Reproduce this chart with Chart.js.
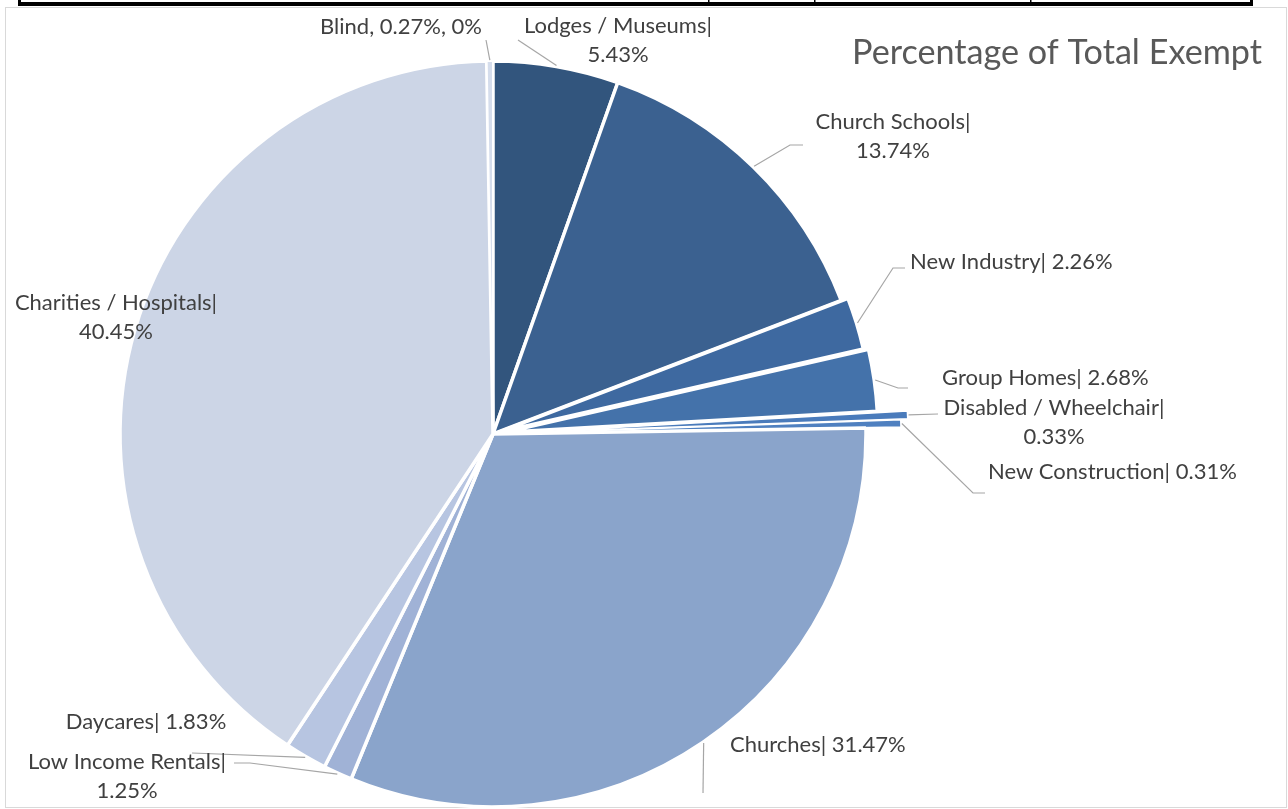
<!DOCTYPE html>
<html><head><meta charset="utf-8">
<script src="https://cdn.jsdelivr.net/npm/chart.js@4"></script>
<style>html,body{margin:0;padding:0;background:#fff;overflow:hidden}
#wrap{position:absolute;left:0;top:0;width:1288px;height:809px}</style>
</head><body>
<div id="wrap"><canvas id="c" width="1288" height="809"></canvas></div>
<script>
// ---- data ----
const categories = ["Lodges / Museums","Church Schools","New Industry","Group Homes","Disabled / Wheelchair","New Construction","Churches","Low Income Rentals","Daycares","Charities / Hospitals","Blind"];
const values = [5.43,13.74,2.26,2.68,0.33,0.31,31.47,1.25,1.83,40.45,0.27];
const chartTitle = "Percentage of Total Exempt";

// ---- styles ----
const colors = ["#32557d","#3b6190","#3e69a0","#4472aa","#4a7bbb","#4f80c0","#8aa4cb","#a0b2d6","#b7c5e1","#ccd5e6","#d5ddec"];
const explodePx = [0,0,7,12,42,35,0,0,0,0,0];   // Excel-style point explosion (pure translation)
const borders = [3.5,3.5,3.5,3.5,1.5,1.5,3.5,3.5,3.5,3.5,2];
// label layout: text anchor, alignment, wrap after pipe, leader path (end points near label)
const labelLayout = [
  {x:618,y:26,align:"center",wrap:true,path:[[518,40]]},
  {x:893,y:122,align:"center",wrap:true,path:[[790,145],[803,145]]},
  {x:910,y:262,align:"left",wrap:false,path:[[893,268],[905,268]]},
  {x:942,y:378,align:"left",wrap:false,path:[[898,388],[908,388]]},
  {x:1054,y:408,align:"center",wrap:true,path:[[938,414]]},
  {x:988,y:472,align:"left",wrap:false,path:[[973,493],[985,493]]},
  {x:730,y:745,align:"left",wrap:false,path:[[703,793]]},
  {x:127,y:762,align:"center",wrap:true,path:[[250,763],[234,763]]},
  {x:146,y:722,align:"center",wrap:false,path:[[192,753]]},
  {x:116,y:303,align:"center",wrap:true,path:null},
  {x:401,y:27,align:"center",wrap:false,comma:true,path:[[486,40]]}
];
const FONT = "Lato, 'Open Sans', sans-serif";

function labelLines(i){
  const v = values[i].toFixed(2)+"%";
  const L = labelLayout[i];
  if (L.comma) return [categories[i]+", "+v+", 0%"];
  if (L.wrap) return [categories[i]+"|", v];
  return [categories[i]+"| "+v];
}

const decor = {
  id:"decor",
  afterDatasetUpdate(chart,args){
    args.meta.data.forEach((el,i)=>{
      const d = explodePx[i]||0;
      if(!d) return;
      const mid = (el.startAngle+el.endAngle)/2;
      el.x += Math.cos(mid)*d;
      el.y += Math.sin(mid)*d;
    });
  },
  beforeDraw(chart){
    const ctx = chart.ctx;
    ctx.save();
    ctx.fillStyle="#fff"; ctx.fillRect(0,0,1288,809);
    ctx.strokeStyle="#d9d9d9"; ctx.lineWidth=1;
    ctx.strokeRect(5.5,7.5,1281,800);
    ctx.fillStyle="#000";
    ctx.fillRect(18,2,1235,4);
    ctx.fillRect(18,0,3,6);
    ctx.fillRect(1250,0,3,6);
    ctx.fillRect(708,0,1.5,6);
    ctx.fillRect(814,0,1.5,6);
    ctx.fillRect(1030,0,1.5,6);
    ctx.restore();
  },
  afterDraw(chart){
    const ctx = chart.ctx;
    const meta = chart.getDatasetMeta(0);
    ctx.save();
    ctx.font = "100px "+FONT;
    const lblSize = 100*155/ctx.measureText("Church Schools|").width;
    const titleSize = 100*410/ctx.measureText(chartTitle).width;
    ctx.fillStyle="#595959";
    ctx.font = titleSize.toFixed(2)+"px "+FONT;
    ctx.textAlign="right"; ctx.textBaseline="alphabetic";
    ctx.fillText(chartTitle,1262,64);
    ctx.strokeStyle="#a6a6a6"; ctx.lineWidth=1.2;
    meta.data.forEach((arc,i)=>{
      const L = labelLayout[i];
      if(!L.path) return;
      const mid = (arc.startAngle+arc.endAngle)/2;
      const reach = arc.outerRadius + 1;
      const ax = arc.x+Math.cos(mid)*reach, ay = arc.y+Math.sin(mid)*reach;
      ctx.beginPath(); ctx.moveTo(ax,ay);
      L.path.forEach(q=>ctx.lineTo(q[0],q[1]));
      ctx.stroke();
    });
    ctx.fillStyle="#404040";
    ctx.font = lblSize.toFixed(2)+"px "+FONT;
    ctx.textBaseline="middle";
    labelLayout.forEach((L,i)=>{
      ctx.textAlign = L.align;
      labelLines(i).forEach((t,k)=>ctx.fillText(t,L.x,L.y+k*29));
    });
    ctx.restore();
  }
};

new Chart(document.getElementById("c"),{
  type:"pie",
  data:{labels:categories,datasets:[{data:values,backgroundColor:colors,borderColor:"#ffffff",borderWidth:borders,offset:0,hoverOffset:0}]},
  options:{
    responsive:false, devicePixelRatio:1, animation:false,
    radius:373,
    layout:{padding:{left:100,right:402,top:64,bottom:5}},
    events:[],
    plugins:{legend:{display:false},tooltip:{enabled:false},title:{display:false}}
  },
  plugins:[decor]
});
</script>
</body></html>
